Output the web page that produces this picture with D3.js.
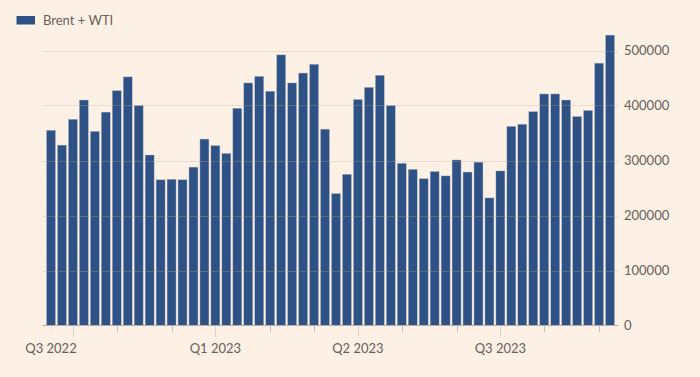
<!DOCTYPE html>
<html>
<head>
<meta charset="utf-8">
<script src="https://cdn.jsdelivr.net/npm/d3@7"></script>
<style>
  html, body { margin: 0; padding: 0; background: #fdf0e5; }
  svg { display: block; font-family: Lato, "Open Sans", sans-serif; }
</style>
</head>
<body>
<div class="chart"></div>
<script>
// weekly volumes, Brent + WTI
const seriesName = 'Brent + WTI';
const firstWeek = '2022-09-20';
const volumes = [
  355000, 328000, 375000, 410000, 353000, 388000, 427000, 452000, 400000, 310000,
  265000, 266000, 265000, 288000, 339000, 327000, 313000, 395000, 441000, 453000,
  426000, 492000, 441000, 459000, 475000, 357000, 240000, 275000, 411000, 433000,
  455000, 400000, 295000, 284000, 267000, 280000, 272000, 301000, 279000, 297000,
  232000, 281000, 362000, 366000, 389000, 421000, 421000, 410000, 380000, 391000,
  477000, 528000
];
const yTicks = [0, 100000, 200000, 300000, 400000, 500000];
// which weeks get a text label on the x axis
const xLabelWeeks = ['2022-09-20', '2023-01-03', '2023-04-04', '2023-07-04'];
const xLabels = ['Q3 2022', 'Q1 2023', 'Q2 2023', 'Q3 2023'];

const start = new Date(firstWeek + 'T00:00:00Z');
const weeks = volumes.map((v, i) => d3.utcDay.offset(start, i * 7));
const data = weeks.map((w, i) => ({ week: w, value: volumes[i] }));
const fmt = d3.utcFormat('%Y-%m-%d');

const svg_width = 700, svg_height = 377;
const svg = d3.select('.chart').append('svg')
  .attr('width', svg_width).attr('height', svg_height);

svg.append('rect').attr('width', svg_width).attr('height', svg_height).attr('fill', '#fdf0e5');

// scales
const x = d3.scaleBand().domain(weeks.map(fmt)).range([45.5, 615.5])
  .paddingInner(0.18).paddingOuter(0.09);
const y = d3.scaleLinear().domain([0, 500000]).range([325.5, 50.5]);

const barColor = '#2e5286';
const textColor = '#66605c';

// bars
svg.append('g').selectAll('rect')
  .data(data).enter().append('rect')
  .attr('x', d => x(fmt(d.week)))
  .attr('y', d => y(d.value))
  .attr('width', x.bandwidth())
  .attr('height', d => y(0) - y(d.value))
  .attr('fill', barColor)
  .attr('stroke', '#b9bfca').attr('stroke-width', 0.4);

// gridlines on top of bars, semi transparent
const grid = svg.append('g');
grid.selectAll('line').data(yTicks.slice(1)).enter().append('line')
  .attr('x1', 42.5).attr('x2', 618.5)
  .attr('y1', d => Math.round(y(d)) + 0.5).attr('y2', d => Math.round(y(d)) + 0.5)
  .attr('stroke', '#b8aca0').attr('stroke-opacity', 0.3);

// y labels on the right
svg.append('g').selectAll('text').data(yTicks).enter().append('text')
  .attr('x', 624).attr('y', d => y(d))
  .attr('dy', '0.35em')
  .attr('font-size', '13px').attr('fill', textColor)
  .text(d => d);

// x axis baseline
svg.append('line')
  .attr('x1', 42.5).attr('x2', 618.5).attr('y1', 325.5).attr('y2', 325.5)
  .attr('stroke', '#b3aca6');

// month ticks at the first week of each month, longer at quarter starts
const cx = d => x(fmt(d)) + x.bandwidth() / 2;
const monthStarts = weeks.filter((w, i) => i > 0 && w.getUTCMonth() !== weeks[i - 1].getUTCMonth());
svg.append('g').selectAll('line').data(monthStarts).enter().append('line')
  .attr('x1', d => Math.round(cx(d)) + 0.5).attr('x2', d => Math.round(cx(d)) + 0.5)
  .attr('y1', 326).attr('y2', d => d.getUTCMonth() % 3 === 0 ? 336.5 : 332)
  .attr('stroke', d => d.getUTCMonth() % 3 === 0 ? '#d9d1c9' : '#c4bdb6');

// faint tick under the first week
svg.append('line')
  .attr('x1', Math.round(cx(weeks[0])) + 0.5).attr('x2', Math.round(cx(weeks[0])) + 0.5)
  .attr('y1', 326).attr('y2', 333).attr('stroke', '#ebe2da');

// x labels
svg.append('g').selectAll('text').data(xLabelWeeks).enter().append('text')
  .attr('x', d => x(d) + x.bandwidth() / 2)
  .attr('y', 352.5)
  .attr('text-anchor', 'middle')
  .attr('font-size', '13px').attr('fill', textColor)
  .text((d, i) => xLabels[i]);

// legend
const legend = svg.append('g');
legend.append('rect').attr('x', 16.5).attr('y', 16).attr('width', 18.5).attr('height', 8.5).attr('fill', barColor);
legend.append('text').attr('x', 43).attr('y', 25).attr('font-size', '13px').attr('fill', textColor).text(seriesName);
</script>
</body>
</html>
